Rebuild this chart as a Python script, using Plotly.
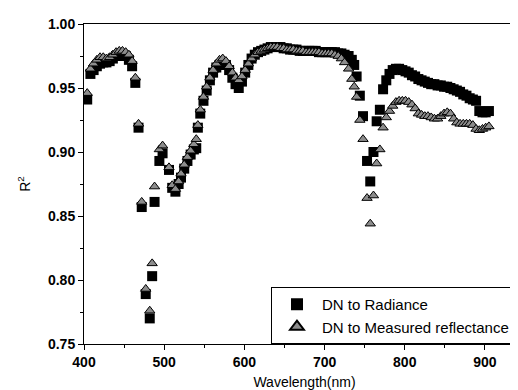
import plotly.graph_objects as go

wavelength = [
    404, 408, 412, 416, 420, 424, 428, 432, 436, 440, 444, 448, 452, 456, 460, 464, 468,
    472, 477, 482, 485, 488, 494, 498, 506, 510, 514,
    518, 521, 525, 529, 533, 537, 540, 542, 545, 549, 553, 557, 561, 565, 569, 573, 577,
    581, 585, 589, 593, 597, 601, 605, 609, 613,
    617, 621, 625, 629, 633, 637, 641, 645, 649, 653, 657, 661, 665, 669, 673, 677, 681,
    685, 689, 693, 697, 701, 705, 709, 713, 717, 721, 725,
    730, 734, 737, 740, 744, 748, 753, 757, 761, 765, 769, 773,
    777, 781, 785, 789, 793, 797, 801, 805, 809, 813, 817, 821, 825, 829, 833, 837, 841,
    845, 849, 853, 857, 861, 865, 869, 873, 877, 881, 885, 889, 893, 897, 901, 905,
]

dn_to_radiance = [
    0.941, 0.961, 0.964, 0.967, 0.969, 0.970, 0.970, 0.971, 0.973, 0.975, 0.976, 0.976, 0.975, 0.972, 0.967, 0.954, 0.919,
    0.857, 0.789, 0.770, 0.803, 0.861, 0.893, 0.899, 0.886, 0.872, 0.869,
    0.875, 0.880, 0.887, 0.893, 0.898, 0.902, 0.903, 0.919, 0.930, 0.940, 0.948, 0.956, 0.962, 0.966, 0.968, 0.969, 0.968,
    0.964, 0.958, 0.953, 0.950, 0.955, 0.962, 0.968, 0.973, 0.976,
    0.978, 0.979, 0.980, 0.981, 0.982, 0.982, 0.982, 0.982, 0.981, 0.981, 0.980, 0.980, 0.980, 0.979, 0.979, 0.979, 0.979,
    0.979, 0.979, 0.978, 0.978, 0.978, 0.978, 0.978, 0.978, 0.977, 0.977, 0.976,
    0.975, 0.972, 0.968, 0.959, 0.944, 0.928, 0.893, 0.877, 0.900, 0.924, 0.933, 0.949,
    0.956, 0.961, 0.964, 0.965, 0.965, 0.964, 0.963, 0.962, 0.960, 0.959, 0.957, 0.956, 0.955, 0.954, 0.953, 0.953, 0.952,
    0.952, 0.951, 0.951, 0.950, 0.949, 0.948, 0.947, 0.945, 0.944, 0.942, 0.941, 0.940, 0.932, 0.931, 0.931, 0.932,
]

dn_to_reflectance = [
    0.946, 0.965, 0.969, 0.972, 0.974, 0.974, 0.973, 0.974, 0.976, 0.978, 0.979, 0.979, 0.978, 0.976, 0.971, 0.958, 0.922,
    0.861, 0.793, 0.776, 0.813, 0.873, 0.902, 0.905, 0.888, 0.874, 0.871,
    0.877, 0.883, 0.890, 0.896, 0.901, 0.906, 0.910, 0.921, 0.933, 0.943, 0.951, 0.958, 0.964, 0.969, 0.972, 0.973, 0.971,
    0.967, 0.962, 0.958, 0.956, 0.959, 0.964, 0.969, 0.973, 0.976,
    0.978, 0.979, 0.980, 0.981, 0.982, 0.982, 0.982, 0.981, 0.981, 0.980, 0.980, 0.980, 0.979, 0.979, 0.979, 0.978, 0.978,
    0.978, 0.978, 0.978, 0.977, 0.977, 0.977, 0.977, 0.976, 0.975, 0.973, 0.970,
    0.965, 0.957, 0.951, 0.943, 0.925, 0.910, 0.864, 0.844, 0.866, 0.891, 0.902, 0.919,
    0.927, 0.932, 0.936, 0.939, 0.940, 0.940, 0.940, 0.939, 0.937, 0.934, 0.930, 0.929, 0.928, 0.928, 0.927, 0.926, 0.926,
    0.928, 0.930, 0.931, 0.930, 0.926, 0.923, 0.922, 0.922, 0.922, 0.922, 0.921, 0.918, 0.917, 0.918, 0.919, 0.920,
]

x_ticks = [400, 500, 600, 700, 800, 900]
y_ticks = [0.75, 0.80, 0.85, 0.90, 0.95, 1.00]

FONT = "Liberation Sans, Arial, sans-serif"

fig = go.Figure()
fig.add_trace(go.Scatter(
    x=wavelength, y=dn_to_radiance, mode="markers", name="DN to Radiance",
    marker=dict(symbol="square", size=10, color="black", line=dict(width=0)),
))
fig.add_trace(go.Scatter(
    x=wavelength, y=dn_to_reflectance, mode="markers", name="DN to Measured reflectance",
    marker=dict(symbol="triangle-up", size=9, color="#8c8c8c", line=dict(width=1, color="black")),
))

tickfont = dict(family=FONT, size=14, color="black", weight="bold")

fig.update_layout(
    width=518, height=390,
    margin=dict(l=76, r=1, t=16, b=54),
    paper_bgcolor="white", plot_bgcolor="white",
    showlegend=True,
    legend=dict(
        x=0.424, xanchor="left", y=0.0, yanchor="bottom",
        bgcolor="white", bordercolor="black", borderwidth=1,
        font=dict(family=FONT, size=15, color="black"),
        tracegroupgap=0, itemsizing="constant", itemwidth=40,
    ),
    xaxis=dict(
        range=[400, 950], tickvals=x_ticks, ticktext=[str(v) for v in x_ticks],
        ticks="outside", ticklen=5, tickwidth=1, tickcolor="black",
        minor=dict(dtick=50, tick0=400, ticks="outside", ticklen=3, tickcolor="black"),
        showline=True, linecolor="black", linewidth=1, mirror=True,
        showgrid=False, zeroline=False, tickfont=tickfont,
        title=dict(text="Wavelength(nm)", standoff=8,
                   font=dict(family=FONT, size=14, color="black")),
    ),
    yaxis=dict(
        range=[0.75, 1.00], tickvals=y_ticks, ticktext=["%.2f" % v for v in y_ticks],
        ticks="outside", ticklen=5, tickwidth=1, tickcolor="black",
        minor=dict(dtick=0.025, tick0=0.75, ticks="outside", ticklen=3, tickcolor="black"),
        showline=True, linecolor="black", linewidth=1, mirror=True,
        showgrid=False, zeroline=False, tickfont=tickfont,
        title=dict(text="R<sup>2</sup>", standoff=14,
                   font=dict(family=FONT, size=14, color="black")),
    ),
)

fig.write_html("out.html")
